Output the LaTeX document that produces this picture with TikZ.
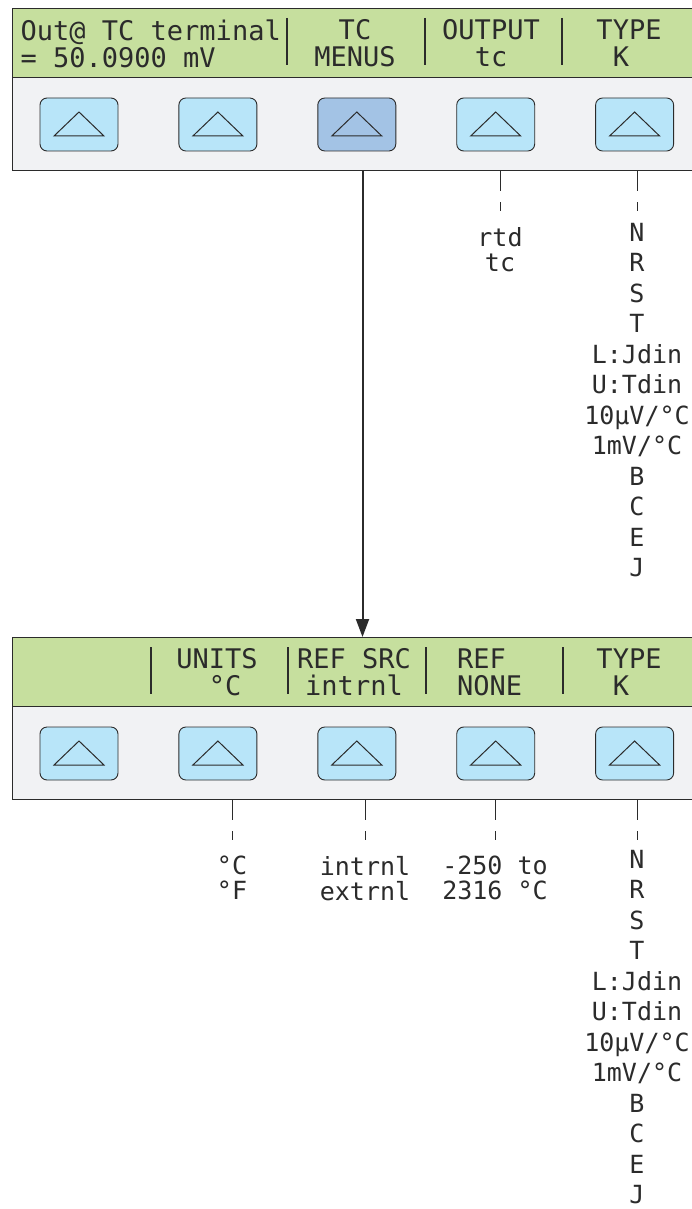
\documentclass[tikz,border=0pt]{standalone}
\usepackage{fontspec}
\usepackage{xcolor}
\definecolor{Lcd}{HTML}{C6DF9E}
\definecolor{Pad}{HTML}{F1F2F4}
\definecolor{Key}{HTML}{B8E5F9}
\definecolor{KeyOn}{HTML}{A3C3E5}
\definecolor{Edge}{HTML}{2B2B2B}
\colorlet{Ink}{Edge}
\newfontfamily\lcdfont{DejaVu Sans Mono}
\newcommand{\blank}{\phantom{0}}
\usepackage{tikz}
\usetikzlibrary{arrows.meta,positioning}

\begin{document}
\begin{tikzpicture}[x=1pt,y=-1pt,node distance=8mm and 60pt,every node/.style={inner sep=0pt,text=Ink},
  panel/.style={draw=Edge,fill=Pad,line width=1pt,minimum width=700pt,minimum height=162pt,anchor=north west},
  screen/.style={draw=Edge,fill=Lcd,line width=1pt,minimum width=700pt,minimum height=69pt,anchor=north west},
  key/.style={draw=Edge,fill=Key,line width=0.9pt,rounded corners=7pt,minimum width=78pt,minimum height=53pt,
    path picture={\draw[sharp corners,line width=1pt] ([xshift=-25pt,yshift=-11.5pt]path picture bounding box.center) -- ++(50pt,0pt) -- ++(-25pt,24pt) -- cycle;}},
  keyon/.style={key,fill=KeyOn},
  lcd/.style={font=\lcdfont\fontsize{27}{26.5}\selectfont,align=center,anchor=north,execute at begin node={\rule{0pt}{22pt}}},
  opt/.style={font=\lcdfont\fontsize{25}{25}\selectfont,align=center,anchor=north,execute at begin node={\rule{0pt}{22pt}}},
  list/.style={opt,font=\lcdfont\fontsize{25}{30.5}\selectfont},
  bar/.style={draw=Edge,line width=1.8pt},
  tick/.style={draw=Edge,line width=0.8pt,dash pattern=on 20pt off 11pt on 9pt off 200pt},
  flow/.style={draw=Edge,line width=2pt,-{Triangle[length=18pt,width=13pt]}}]
\useasboundingbox[fill=white] (0,0) rectangle (692,1209);
% upper display
\node[panel] (pa) at (12,8) {};
\node[screen] (sa) at (pa.north west) {};
\draw[bar] (287,18) -- (287,65);
\draw[bar] (425,18) -- (425,65);
\draw[bar] (562,18) -- (562,65);
\node[lcd,anchor=north west,align=left] (ta) at (20.5,19.7) {Out@ TC terminal\\= 50.0900 mV};
\node[lcd] (tb) at (355,19.7) {TC\\MENUS};
\node[lcd] (tc) at (491,19.7) {OUTPUT\\tc};
\node[lcd] (td) at (629,19.7) {TYPE\\K\blank};
\node[key] (ka) at (79,124.5) {};
\node[key,right=of ka] (kb) {};
\node[keyon,right=of kb] (kc) {};
\node[key,right=of kc] (kd) {};
\node[key,right=of kd] (ke) {};
\node[opt] (od) at (500,227) {rtd\\tc};
\node[list] (oe) at (637,223) {N\\R\\S\\T\\L:Jdin\\U:Tdin\\10µV/°C\\1mV/°C\\B\\C\\E\\J};
\draw[tick] (pa.south -| od.north) -- (od.north);
\draw[tick] (pa.south -| oe.north) -- (oe.north);
% lower display
\node[panel] (pb) at (12,637) {};
\node[screen] (sb) at (pb.north west) {};
\draw[bar] (151,647) -- (151,694);
\draw[bar] (288,647) -- (288,694);
\draw[bar] (426,647) -- (426,694);
\draw[bar] (563,647) -- (563,694);
\node[lcd] (tf) at (217,648.7) {UNITS\\\blank°C};
\node[lcd] (tg) at (354,648.7) {REF SRC\\intrnl};
\node[lcd,anchor=north west,align=left] (th) at (457,648.7) {REF\\NONE};
\node[lcd] (ti) at (629,648.7) {TYPE\\K\blank};
\node[key] (kf) at (79,753.5) {};
\node[key,right=of kf] (kg) {};
\node[key,right=of kg] (kh) {};
\node[key,right=of kh] (ki) {};
\node[key,right=of ki] (kj) {};
\node[opt] (og) at (232,856) {°C\\°F};
\node[opt] (oh) at (365,856) {intrnl\\extrnl};
\node[opt] (oi) at (495,856) {-250 to\\2316 °C};
\node[list] (oj) at (637,850) {N\\R\\S\\T\\L:Jdin\\U:Tdin\\10µV/°C\\1mV/°C\\B\\C\\E\\J};
\draw[tick] (pb.south -| og.north) -- (og.north);
\draw[tick] (pb.south -| oh.north) -- (oh.north);
\draw[tick] (pb.south -| oi.north) -- (oi.north);
\draw[tick] (pb.south -| oj.north) -- (oj.north);
\draw[flow] (pa.south) -- (pb.north);
\end{tikzpicture}
\end{document}
